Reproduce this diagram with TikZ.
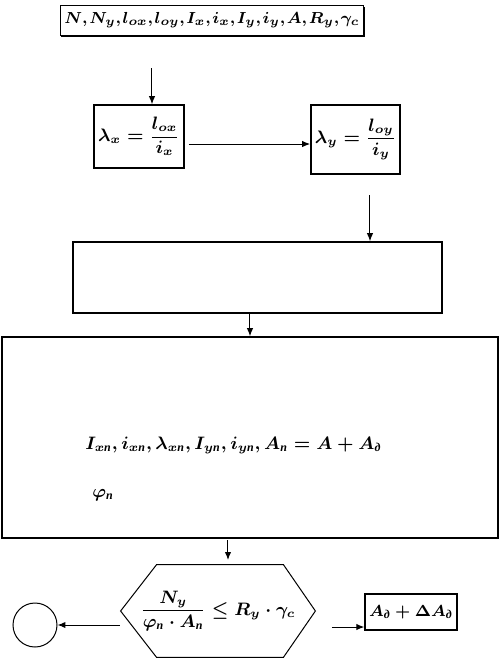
\documentclass[tikz,border=0pt]{standalone}
\usepackage{amsmath,amssymb}
\usepackage{fontspec}
\newfontfamily\cyrfont{Liberation Serif}
\newcommand{\cy}[1]{\text{\cyrfont\bfseries\itshape #1}}
\newcommand{\cm}{{,}\mkern1.5mu}
\usepackage{tikz}
\usetikzlibrary{arrows.meta,calc,shadows}
\tikzset{
  blk/.style={rectangle, draw=black, line width=0.8pt, fill=white, inner sep=2pt,
    drop shadow={shadow xshift=0.5pt, shadow yshift=-0.5pt, fill=black, opacity=1},
    font=\boldmath},
  txt/.style={inner sep=0pt, font=\boldmath},
  flow/.style={-{Latex[length=4pt,width=3.2pt]}, line width=0.5pt, draw=black},
}

\begin{document}
\begin{tikzpicture}[x=0.5pt, y=-0.5pt]
  \useasboundingbox (0,0) rectangle (500,661);
  \node[blk, font=\footnotesize\boldmath, minimum width=136pt, minimum height=15pt] (src) at (212,20.5)
    {$N\cm N_y\cm l_{ox}\cm l_{oy}\cm I_x\cm i_x\cm I_y\cm i_y\cm A\cm R_y\cm \gamma_c$};
  \node[blk, font=\small\boldmath, minimum width=42pt, minimum height=31.5pt] (lamx) at (139,136.5)
    {$\lambda_x = \dfrac{l_{ox}}{i_x}$};
  \node[blk, font=\small\boldmath, minimum width=42.5pt, minimum height=34.5pt] (lamy) at (355.5,139.5)
    {$\lambda_y = \dfrac{l_{oy}}{i_y}$};
  \node[blk, minimum width=184.5pt, minimum height=35.5pt] (stage) at (257.5,277.5) {};
  \node[blk, minimum width=248pt, minimum height=100.5pt] (calc) at (250,437.5) {};
  \node[txt, font=\small\boldmath, anchor=base west] (calcA) at (85,449)
    {$I_{x\cy{п}}, i_{x\cy{п}}, \lambda_{x\cy{п}}, I_{y\cy{п}}, i_{y\cy{п}}, A_{\cy{п}} = A + A_{\cy{д}}$};
  \node[txt, font=\small\boldmath, anchor=base west] (calcB) at (92,497) {$\varphi_{\cy{п}}$};
  % check of stability
  \node[txt, font=\small\boldmath, minimum width=97pt, minimum height=46pt] (check) at (218,611)
    {$\dfrac{N_y}{\varphi_{\cy{п}}\cdot A_{\cy{п}}} \le R_y\cdot\gamma_c$};
  \draw[line width=0.5pt] (check.west) -- ($(check.north west)+(36,0)$)
    -- ($(check.north east)+(-32,0)$) -- (check.east)
    -- ($(check.south east)+(-32,0)$) -- ($(check.south west)+(36,0)$) -- cycle;
  \node[circle, draw, line width=0.5pt, minimum size=22pt, inner sep=0pt] (stop) at (35,625) {};
  \node[blk, font=\footnotesize\boldmath, minimum width=40pt, minimum height=18pt] (incr) at (411,612)
    {$A_{\cy{д}} + \Delta A_{\cy{д}}$};
  \coordinate (a1) at (152,68);
  \coordinate (a2) at (189,144);
  \coordinate (a3) at (370,195);
  \coordinate (a4) at (250,0);
  \coordinate (a5) at (228,540);
  \coordinate (a6) at (120,625);
  \coordinate (a7) at (332,627);
  \draw[flow] (a1) -- (a1 |- lamx.north);
  \draw[flow] (a2) -- (a2 -| lamy.west);
  \draw[flow] (a3) -- (a3 |- stage.north);
  \draw[flow] (a4 |- stage.south) -- (a4 |- calc.north);
  \draw[flow] (a5) -- ++(0,20);
  \draw[flow] (a6) -- (stop.east);
  \draw[flow] (a7) -- (a7 -| incr.west);
\end{tikzpicture}
\end{document}
